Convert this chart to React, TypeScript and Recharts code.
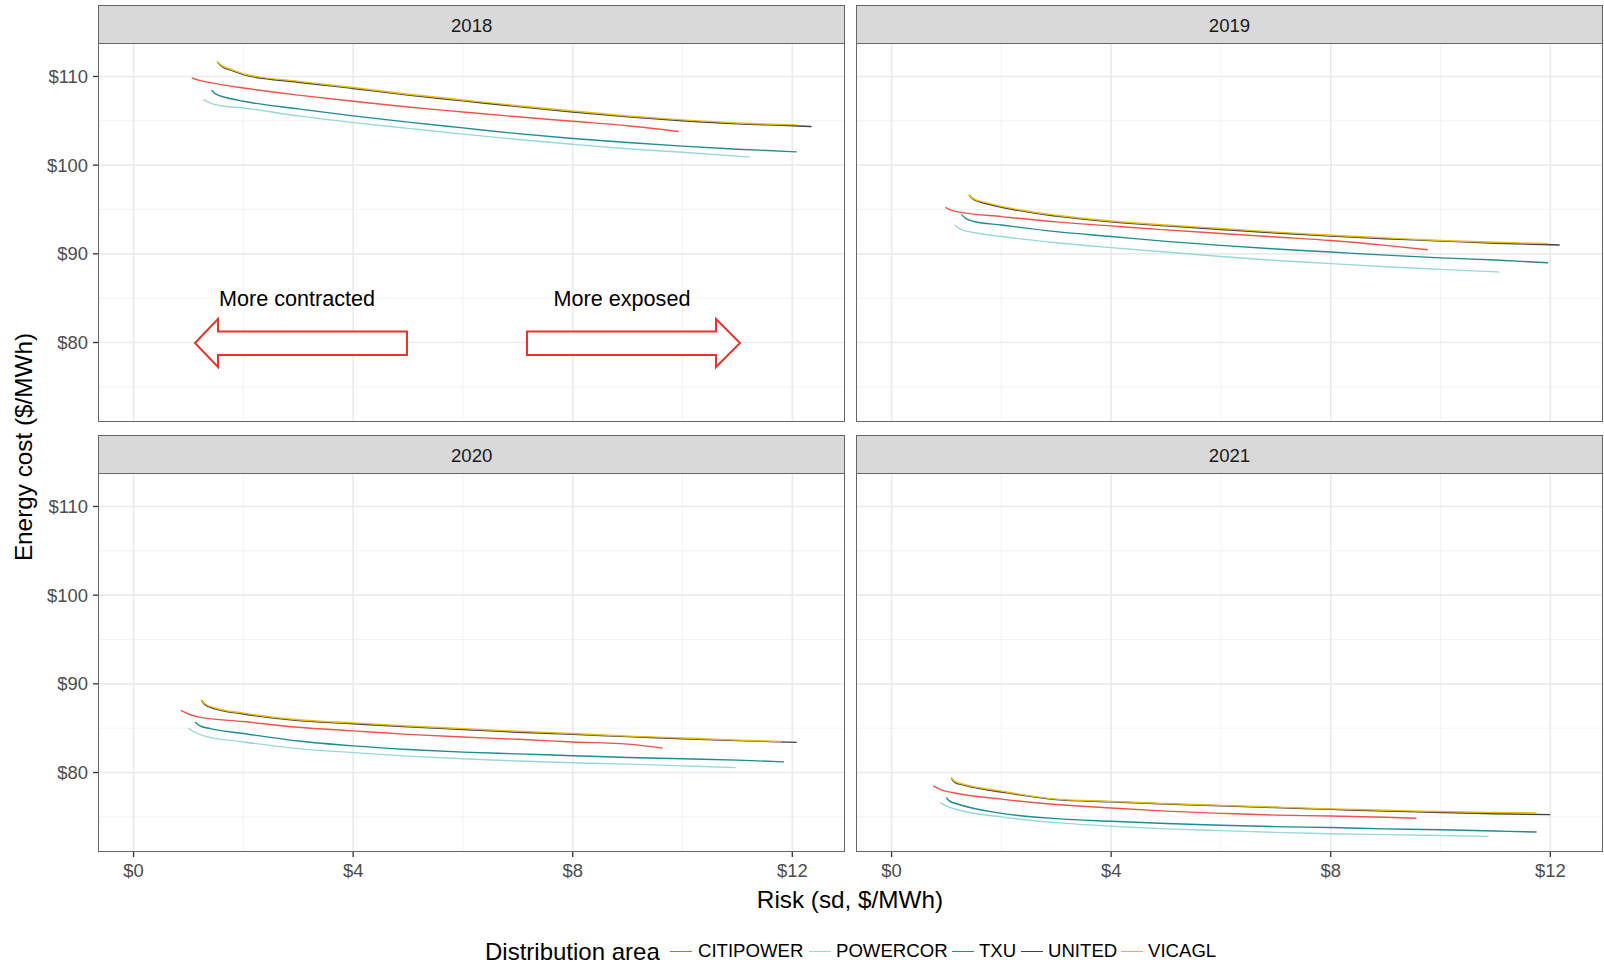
import React from 'react';
import { LineChart, Line, XAxis, YAxis, ReferenceLine } from 'recharts';

// distribution areas and their colours
const AREAS = ['CITIPOWER', 'POWERCOR', 'TXU', 'UNITED', 'VICAGL'];
const AREA_COLORS = ['#F0534A', '#98D8DA', '#1F8B94', '#404040', '#E9BA12'];
const YEARS = ['2018', '2019', '2020', '2021'];

// tick values and grid
const X_TICKS = [0, 4, 8, 12];
const X_MINOR = [2, 6, 10];
const Y_TICKS = [80, 90, 100, 110];
const Y_MINOR = [75, 85, 95, 105];
const X_DOMAIN = [-0.63, 12.96];
const Y_DOMAIN = [71.04, 113.66];

// [risk sd, energy cost] per area and year
const CITIPOWER_2018 = [[1.06, 109.85], [1.2, 109.55], [1.4, 109.3], [2, 108.7], [3, 107.9], [4, 107.2], [5, 106.55], [6, 106.0], [7, 105.45], [8, 104.95], [9, 104.45], [9.93, 103.8]];
const POWERCOR_2018 = [[1.27, 107.4], [1.4, 107.0], [1.6, 106.7], [2, 106.45], [3, 105.55], [4, 104.8], [5, 104.15], [6, 103.5], [7, 102.9], [8, 102.35], [9, 101.85], [10, 101.45], [11.23, 100.9]];
const TXU_2018 = [[1.42, 108.45], [1.5, 108.0], [1.7, 107.6], [2, 107.2], [3, 106.35], [4, 105.55], [5, 104.85], [6, 104.2], [7, 103.55], [8, 103.0], [9, 102.55], [10, 102.15], [11, 101.8], [12.08, 101.5]];
const UNITED_2018 = [[1.53, 111.6], [1.6, 111.15], [1.8, 110.65], [2, 110.2], [3, 109.35], [4, 108.65], [5, 107.9], [6, 107.25], [7, 106.6], [8, 106.0], [9, 105.45], [10, 105.0], [11, 104.65], [12, 104.45], [12.35, 104.35]];
const VICAGL_2018 = [[1.52, 111.7], [1.6, 111.25], [1.8, 110.75], [2, 110.3], [3, 109.45], [4, 108.75], [5, 108.0], [6, 107.35], [7, 106.7], [8, 106.1], [9, 105.55], [10, 105.1], [11, 104.75], [12.08, 104.55]];

const CITIPOWER_2019 = [[0.98, 95.25], [1.1, 94.9], [1.3, 94.65], [2, 94.2], [3, 93.6], [4, 93.15], [5, 92.7], [6, 92.3], [7, 91.9], [8, 91.5], [9, 90.95], [9.77, 90.45]];
const POWERCOR_2019 = [[1.15, 93.25], [1.25, 92.8], [1.5, 92.4], [2, 91.95], [3, 91.25], [4, 90.7], [5, 90.2], [6, 89.7], [7, 89.25], [8, 88.9], [9, 88.55], [10, 88.25], [11.07, 87.95]];
const TXU_2019 = [[1.27, 94.45], [1.35, 94.0], [1.5, 93.65], [2, 93.25], [3, 92.5], [4, 91.95], [5, 91.4], [6, 90.95], [7, 90.55], [8, 90.2], [9, 89.85], [10, 89.55], [11, 89.3], [11.96, 89.0]];
const UNITED_2019 = [[1.42, 96.55], [1.5, 96.1], [1.7, 95.7], [2, 95.25], [3, 94.25], [4, 93.6], [5, 93.15], [6, 92.75], [7, 92.35], [8, 92.0], [9, 91.7], [10, 91.45], [11, 91.2], [12.17, 91.0]];
const VICAGL_2019 = [[1.4, 96.65], [1.5, 96.2], [1.7, 95.8], [2, 95.35], [3, 94.35], [4, 93.7], [5, 93.25], [6, 92.85], [7, 92.45], [8, 92.1], [9, 91.8], [10, 91.5], [11, 91.3], [11.96, 91.15]];

const CITIPOWER_2020 = [[0.86, 87.0], [1.0, 86.6], [1.2, 86.25], [2, 85.75], [3, 85.1], [4, 84.7], [5, 84.3], [6, 84.0], [7, 83.75], [8, 83.45], [9, 83.2], [9.64, 82.75]];
const POWERCOR_2020 = [[1.0, 85.0], [1.1, 84.6], [1.3, 84.1], [2, 83.45], [3, 82.7], [4, 82.25], [5, 81.85], [6, 81.55], [7, 81.3], [8, 81.1], [9, 80.95], [10, 80.75], [10.97, 80.55]];
const TXU_2020 = [[1.12, 85.7], [1.2, 85.3], [1.4, 84.95], [2, 84.4], [3, 83.55], [4, 83.0], [5, 82.6], [6, 82.3], [7, 82.1], [8, 81.9], [9, 81.7], [10, 81.55], [11, 81.4], [11.85, 81.2]];
const UNITED_2020 = [[1.24, 88.1], [1.3, 87.65], [1.5, 87.15], [2, 86.6], [3, 85.85], [4, 85.5], [5, 85.15], [6, 84.85], [7, 84.55], [8, 84.3], [9, 84.05], [10, 83.8], [11, 83.6], [12.08, 83.4]];
const VICAGL_2020 = [[1.23, 88.2], [1.3, 87.75], [1.5, 87.25], [2, 86.7], [3, 85.95], [4, 85.6], [5, 85.25], [6, 84.95], [7, 84.65], [8, 84.4], [9, 84.1], [10, 83.9], [11, 83.65], [11.8, 83.5]];

const CITIPOWER_2021 = [[0.76, 78.5], [0.9, 78.05], [1.1, 77.75], [2, 77.0], [3, 76.4], [4, 76.0], [5, 75.65], [6, 75.4], [7, 75.2], [8, 75.1], [9, 74.95], [9.56, 74.85]];
const POWERCOR_2021 = [[0.89, 76.6], [1.0, 76.2], [1.2, 75.8], [2, 75.0], [3, 74.35], [4, 73.95], [5, 73.65], [6, 73.45], [7, 73.25], [8, 73.1], [9, 73.0], [10, 72.9], [10.88, 72.8]];
const TXU_2021 = [[1.0, 77.2], [1.05, 76.8], [1.2, 76.45], [2, 75.4], [3, 74.8], [4, 74.5], [5, 74.25], [6, 74.05], [7, 73.9], [8, 73.8], [9, 73.65], [10, 73.55], [11, 73.4], [11.75, 73.3]];
const UNITED_2021 = [[1.09, 79.35], [1.15, 78.9], [1.3, 78.6], [2, 77.8], [3, 76.95], [4, 76.7], [5, 76.45], [6, 76.25], [7, 76.05], [8, 75.85], [9, 75.65], [10, 75.5], [11, 75.35], [12.0, 75.25]];
const VICAGL_2021 = [[1.08, 79.45], [1.15, 79.0], [1.3, 78.7], [2, 77.9], [3, 77.0], [4, 76.75], [5, 76.5], [6, 76.3], [7, 76.1], [8, 75.9], [9, 75.75], [10, 75.6], [11, 75.5], [11.75, 75.45]];

const SERIES_BY_YEAR = [
  [CITIPOWER_2018, POWERCOR_2018, TXU_2018, UNITED_2018, VICAGL_2018],
  [CITIPOWER_2019, POWERCOR_2019, TXU_2019, UNITED_2019, VICAGL_2019],
  [CITIPOWER_2020, POWERCOR_2020, TXU_2020, UNITED_2020, VICAGL_2020],
  [CITIPOWER_2021, POWERCOR_2021, TXU_2021, UNITED_2021, VICAGL_2021],
];

const FONT = '"Liberation Sans", Arial, sans-serif';
const PANEL_W = 746;
const PLOT_H = 378;
const STRIP_H = 38.5;
const Y_AXIS_W = 90;
const X_AXIS_H = 50;
const PANEL_LEFT = [98.7, 856.5];
const STRIP_TOP = [5, 435];
const BORDER = '#666666';

const toPoints = (pairs: number[][]) => pairs.map(([x, y]) => ({ x, y }));
const money = (v: number) => `$${v}`;

const Panel = ({ index }: { index: number }) => {
  const col = index % 2;
  const row = Math.floor(index / 2);
  const showY = col === 0;
  const showX = row === 1;
  const left = PANEL_LEFT[col];
  const stripTop = STRIP_TOP[row];
  const plotTop = stripTop + STRIP_H;
  const w = PANEL_W + (showY ? Y_AXIS_W : 0);
  const h = PLOT_H + (showX ? X_AXIS_H : 0);

  return (
    <>
      <div style={{
        position: 'absolute', left: left - 0.75, top: stripTop, width: PANEL_W + 1.5, height: STRIP_H + 0.75,
        boxSizing: 'border-box', background: '#D9D9D9', border: `1.5px solid ${BORDER}`,
        display: 'flex', alignItems: 'center', justifyContent: 'center', paddingTop: 3,
        fontSize: 18.6, color: '#1A1A1A',
      }}>{YEARS[index]}</div>
      <div style={{ position: 'absolute', left: left - (showY ? Y_AXIS_W : 0), top: plotTop }}>
        <LineChart width={w} height={h} margin={{ top: 0, right: 0, bottom: 0, left: 0 }}>
          <XAxis
            type="number" dataKey="x" domain={X_DOMAIN} allowDataOverflow ticks={X_TICKS} interval={0}
            tickFormatter={money} hide={!showX} height={X_AXIS_H} axisLine={false}
            tickLine={{ stroke: '#333333', strokeWidth: 1.3 }} tickSize={5} tickMargin={7}
            tick={{ fill: '#4D4D4D', fontSize: 18.4, fontFamily: FONT }}
          />
          <YAxis
            type="number" dataKey="y" domain={Y_DOMAIN} allowDataOverflow ticks={Y_TICKS} interval={0}
            tickFormatter={money} hide={!showY} width={Y_AXIS_W} axisLine={false}
            tickLine={{ stroke: '#333333', strokeWidth: 1.3 }} tickSize={6} tickMargin={5}
            tick={{ fill: '#4D4D4D', fontSize: 18.4, fontFamily: FONT }}
          />
          {Y_MINOR.map(v => <ReferenceLine key={`ym${v}`} y={v} stroke="#F2F2F2" strokeWidth={0.9} />)}
          {X_MINOR.map(v => <ReferenceLine key={`xm${v}`} x={v} stroke="#F2F2F2" strokeWidth={0.9} />)}
          {Y_TICKS.map(v => <ReferenceLine key={`y${v}`} y={v} stroke="#EBEBEB" strokeWidth={1.6} />)}
          {X_TICKS.map(v => <ReferenceLine key={`x${v}`} x={v} stroke="#EBEBEB" strokeWidth={1.6} />)}
          {SERIES_BY_YEAR[index].map((pairs, i) => (
            <Line
              key={AREAS[i]} name={AREAS[i]} data={toPoints(pairs)} dataKey="y" type="monotone"
              stroke={AREA_COLORS[i]} strokeWidth={1.4} dot={false} activeDot={false} isAnimationActive={false}
            />
          ))}
        </LineChart>
      </div>
      <div style={{
        position: 'absolute', left: left - 0.75, top: plotTop - 0.75, width: PANEL_W + 1.5, height: PLOT_H + 1.5,
        boxSizing: 'border-box', border: `1.5px solid ${BORDER}`, pointerEvents: 'none',
      }} />
    </>
  );
};

const Annotations = () => (
  <>
    <svg width={1604} height={966} style={{ position: 'absolute', left: 0, top: 0, pointerEvents: 'none' }}>
      <polygon points="195,343 218,319 218,331.5 407,331.5 407,355 218,355 218,367" fill="#FFFFFF" stroke="#E8342C" strokeWidth={2} />
      <polygon points="527,331.5 716,331.5 716,319 740,343 716,367 716,355 527,355" fill="#FFFFFF" stroke="#E8342C" strokeWidth={2} />
    </svg>
    <div style={{ position: 'absolute', left: 297, top: 299, transform: 'translate(-50%, -50%)', fontSize: 21.6, color: '#000', whiteSpace: 'nowrap' }}>More contracted</div>
    <div style={{ position: 'absolute', left: 622, top: 299, transform: 'translate(-50%, -50%)', fontSize: 21.6, color: '#000', whiteSpace: 'nowrap' }}>More exposed</div>
  </>
);

const LEGEND_KEY_X = [670, 809, 952, 1021, 1121];
const LEGEND_TEXT_X = [698, 836, 979, 1048, 1148];

const Legend = () => (
  <>
    <div style={{ position: 'absolute', left: 485, top: 952, transform: 'translateY(-50%)', fontSize: 24, color: '#000', whiteSpace: 'nowrap' }}>Distribution area</div>
    {AREAS.map((a, i) => (
      <React.Fragment key={a}>
        <div style={{ position: 'absolute', left: LEGEND_KEY_X[i], top: 950.5, width: 22, height: 1.5, background: AREA_COLORS[i] }} />
        <div style={{ position: 'absolute', left: LEGEND_TEXT_X[i], top: 951, transform: 'translateY(-50%)', fontSize: 18.6, color: '#000', whiteSpace: 'nowrap' }}>{a}</div>
      </React.Fragment>
    ))}
  </>
);

export default function App() {
  return (
    <div style={{ position: 'absolute', left: 0, top: 0, width: 1604, height: 966, background: '#FFFFFF', fontFamily: FONT, overflow: 'hidden' }}>
      {[0, 1, 2, 3].map(i => <Panel key={i} index={i} />)}
      <Annotations />
      <div style={{ position: 'absolute', left: 24, top: 447, transform: 'translate(-50%, -50%) rotate(-90deg)', fontSize: 24.3, color: '#000', whiteSpace: 'nowrap' }}>Energy cost ($/MWh)</div>
      <div style={{ position: 'absolute', left: 850, top: 900, transform: 'translate(-50%, -50%)', fontSize: 24.3, color: '#000', whiteSpace: 'nowrap' }}>Risk (sd, $/MWh)</div>
      <Legend />
    </div>
  );
}
